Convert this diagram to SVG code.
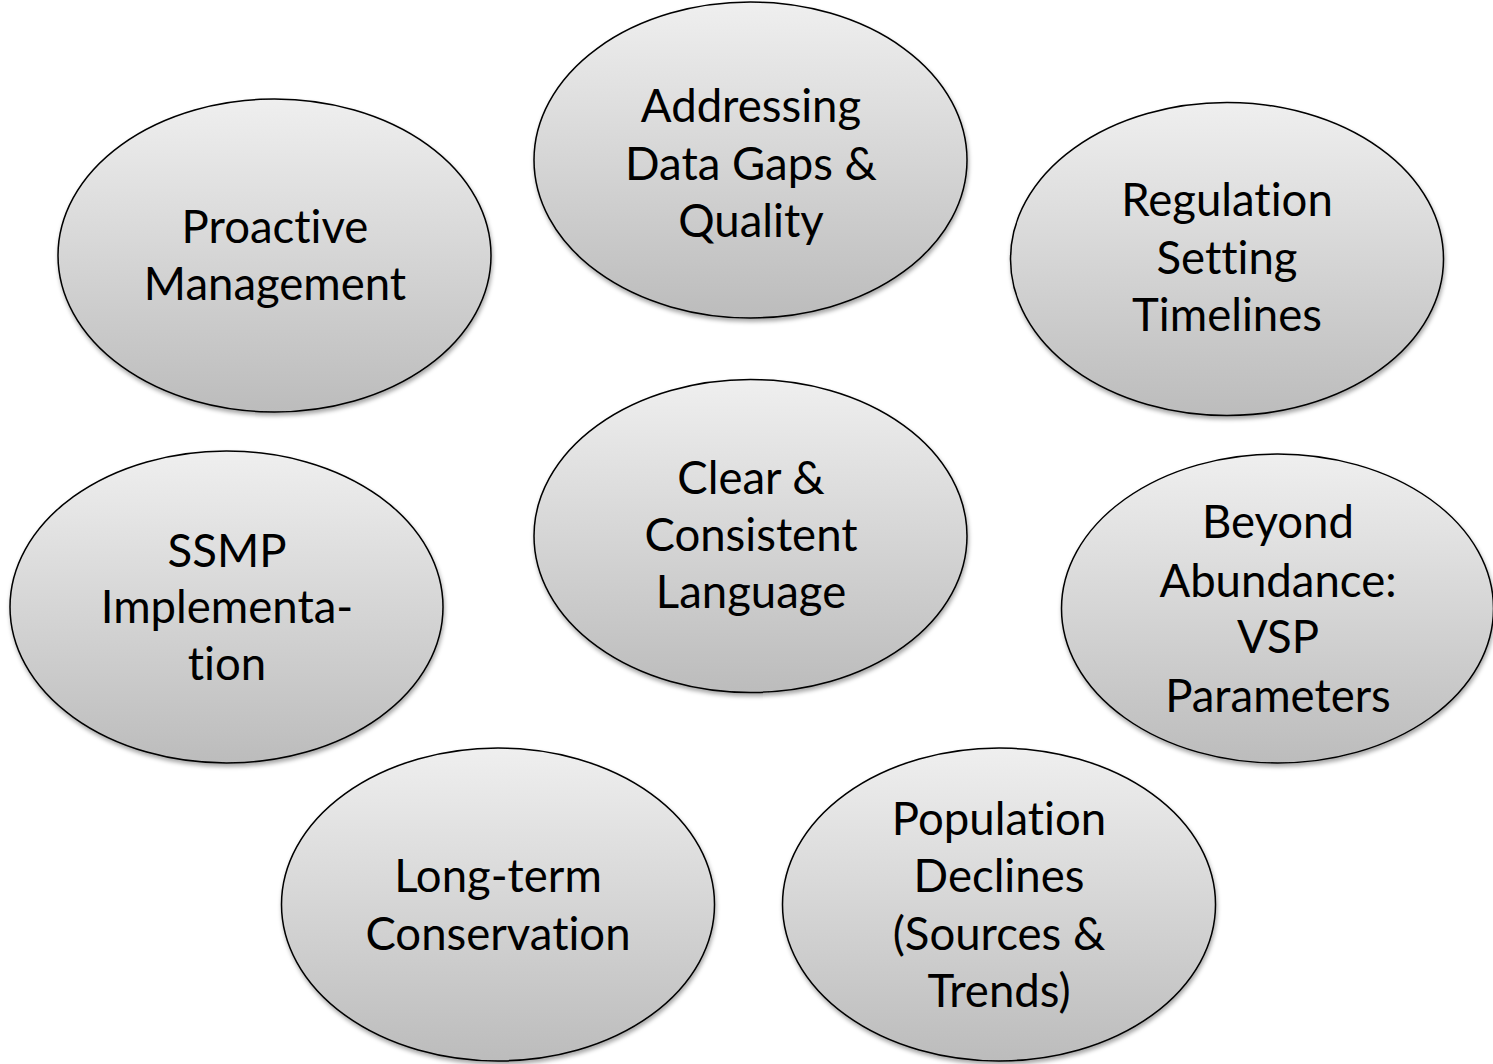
<svg xmlns="http://www.w3.org/2000/svg" width="1493" height="1064" viewBox="0 0 1493 1064">
<defs>
<linearGradient id="g" x1="0" y1="0" x2="0" y2="1">
<stop offset="0" stop-color="#efefef"/>
<stop offset="1" stop-color="#bcbcbc"/>
</linearGradient>
<filter id="sh" x="-10%" y="-10%" width="120%" height="125%">
<feDropShadow dx="1" dy="3" stdDeviation="2" flood-color="#000" flood-opacity="0.35"/>
</filter>
</defs>
<style>
.n ellipse{fill:url(#g);stroke:#000;stroke-width:1.5;filter:url(#sh)}
.n text{font-family:Lato,"Liberation Sans",sans-serif;font-size:45.5px;fill:#000;text-anchor:middle;font-variant-ligatures:none;font-feature-settings:"liga" 0,"clig" 0,"dlig" 0}
</style>
<rect width="1493" height="1064" fill="#fff"/>
<g id="connectors"/>
<g id="n-proactive" class="n"><ellipse cx="274.5" cy="255.5" rx="216.5" ry="156.5"/>
<text x="275" y="243">Proactive</text><text x="275" y="300">Management</text></g>
<g id="n-addressing" class="n"><ellipse cx="750.5" cy="160" rx="216.5" ry="158"/>
<text x="751" y="122">Addressing</text><text x="751" y="180">Data Gaps &amp;</text><text x="751" y="237">Quality</text></g>
<g id="n-regulation" class="n"><ellipse cx="1227" cy="259" rx="216.5" ry="156.5"/>
<text x="1227" y="216">Regulation</text><text x="1227" y="274">Setting</text><text x="1227" y="331">Timelines</text></g>
<g id="n-clear" class="n"><ellipse cx="750.5" cy="536" rx="216.5" ry="156.5"/>
<text x="751" y="494">Clear &amp;</text><text x="751" y="551">Consistent</text><text x="751" y="608">Language</text></g>
<g id="n-ssmp" class="n"><ellipse cx="226.5" cy="607" rx="216.5" ry="156"/>
<text x="227" y="567">SSMP</text><text x="227" y="623">Implementa-</text><text x="227" y="680">tion</text></g>
<g id="n-beyond" class="n"><ellipse cx="1277.5" cy="608.5" rx="216" ry="154.5"/>
<text x="1278" y="538">Beyond</text><text x="1278" y="597">Abundance:</text><text x="1278" y="653">VSP</text><text x="1278" y="712">Parameters</text></g>
<g id="n-longterm" class="n"><ellipse cx="498" cy="904.5" rx="216.5" ry="156.5"/>
<text x="498" y="892">Long-term</text><text x="498" y="950">Conservation</text></g>
<g id="n-population" class="n"><ellipse cx="999" cy="904.5" rx="216.5" ry="156.5"/>
<text x="999" y="835">Population</text><text x="999" y="892">Declines</text><text x="999" y="950">(Sources &amp;</text><text x="999" y="1007">Trends)</text></g>
</svg>
